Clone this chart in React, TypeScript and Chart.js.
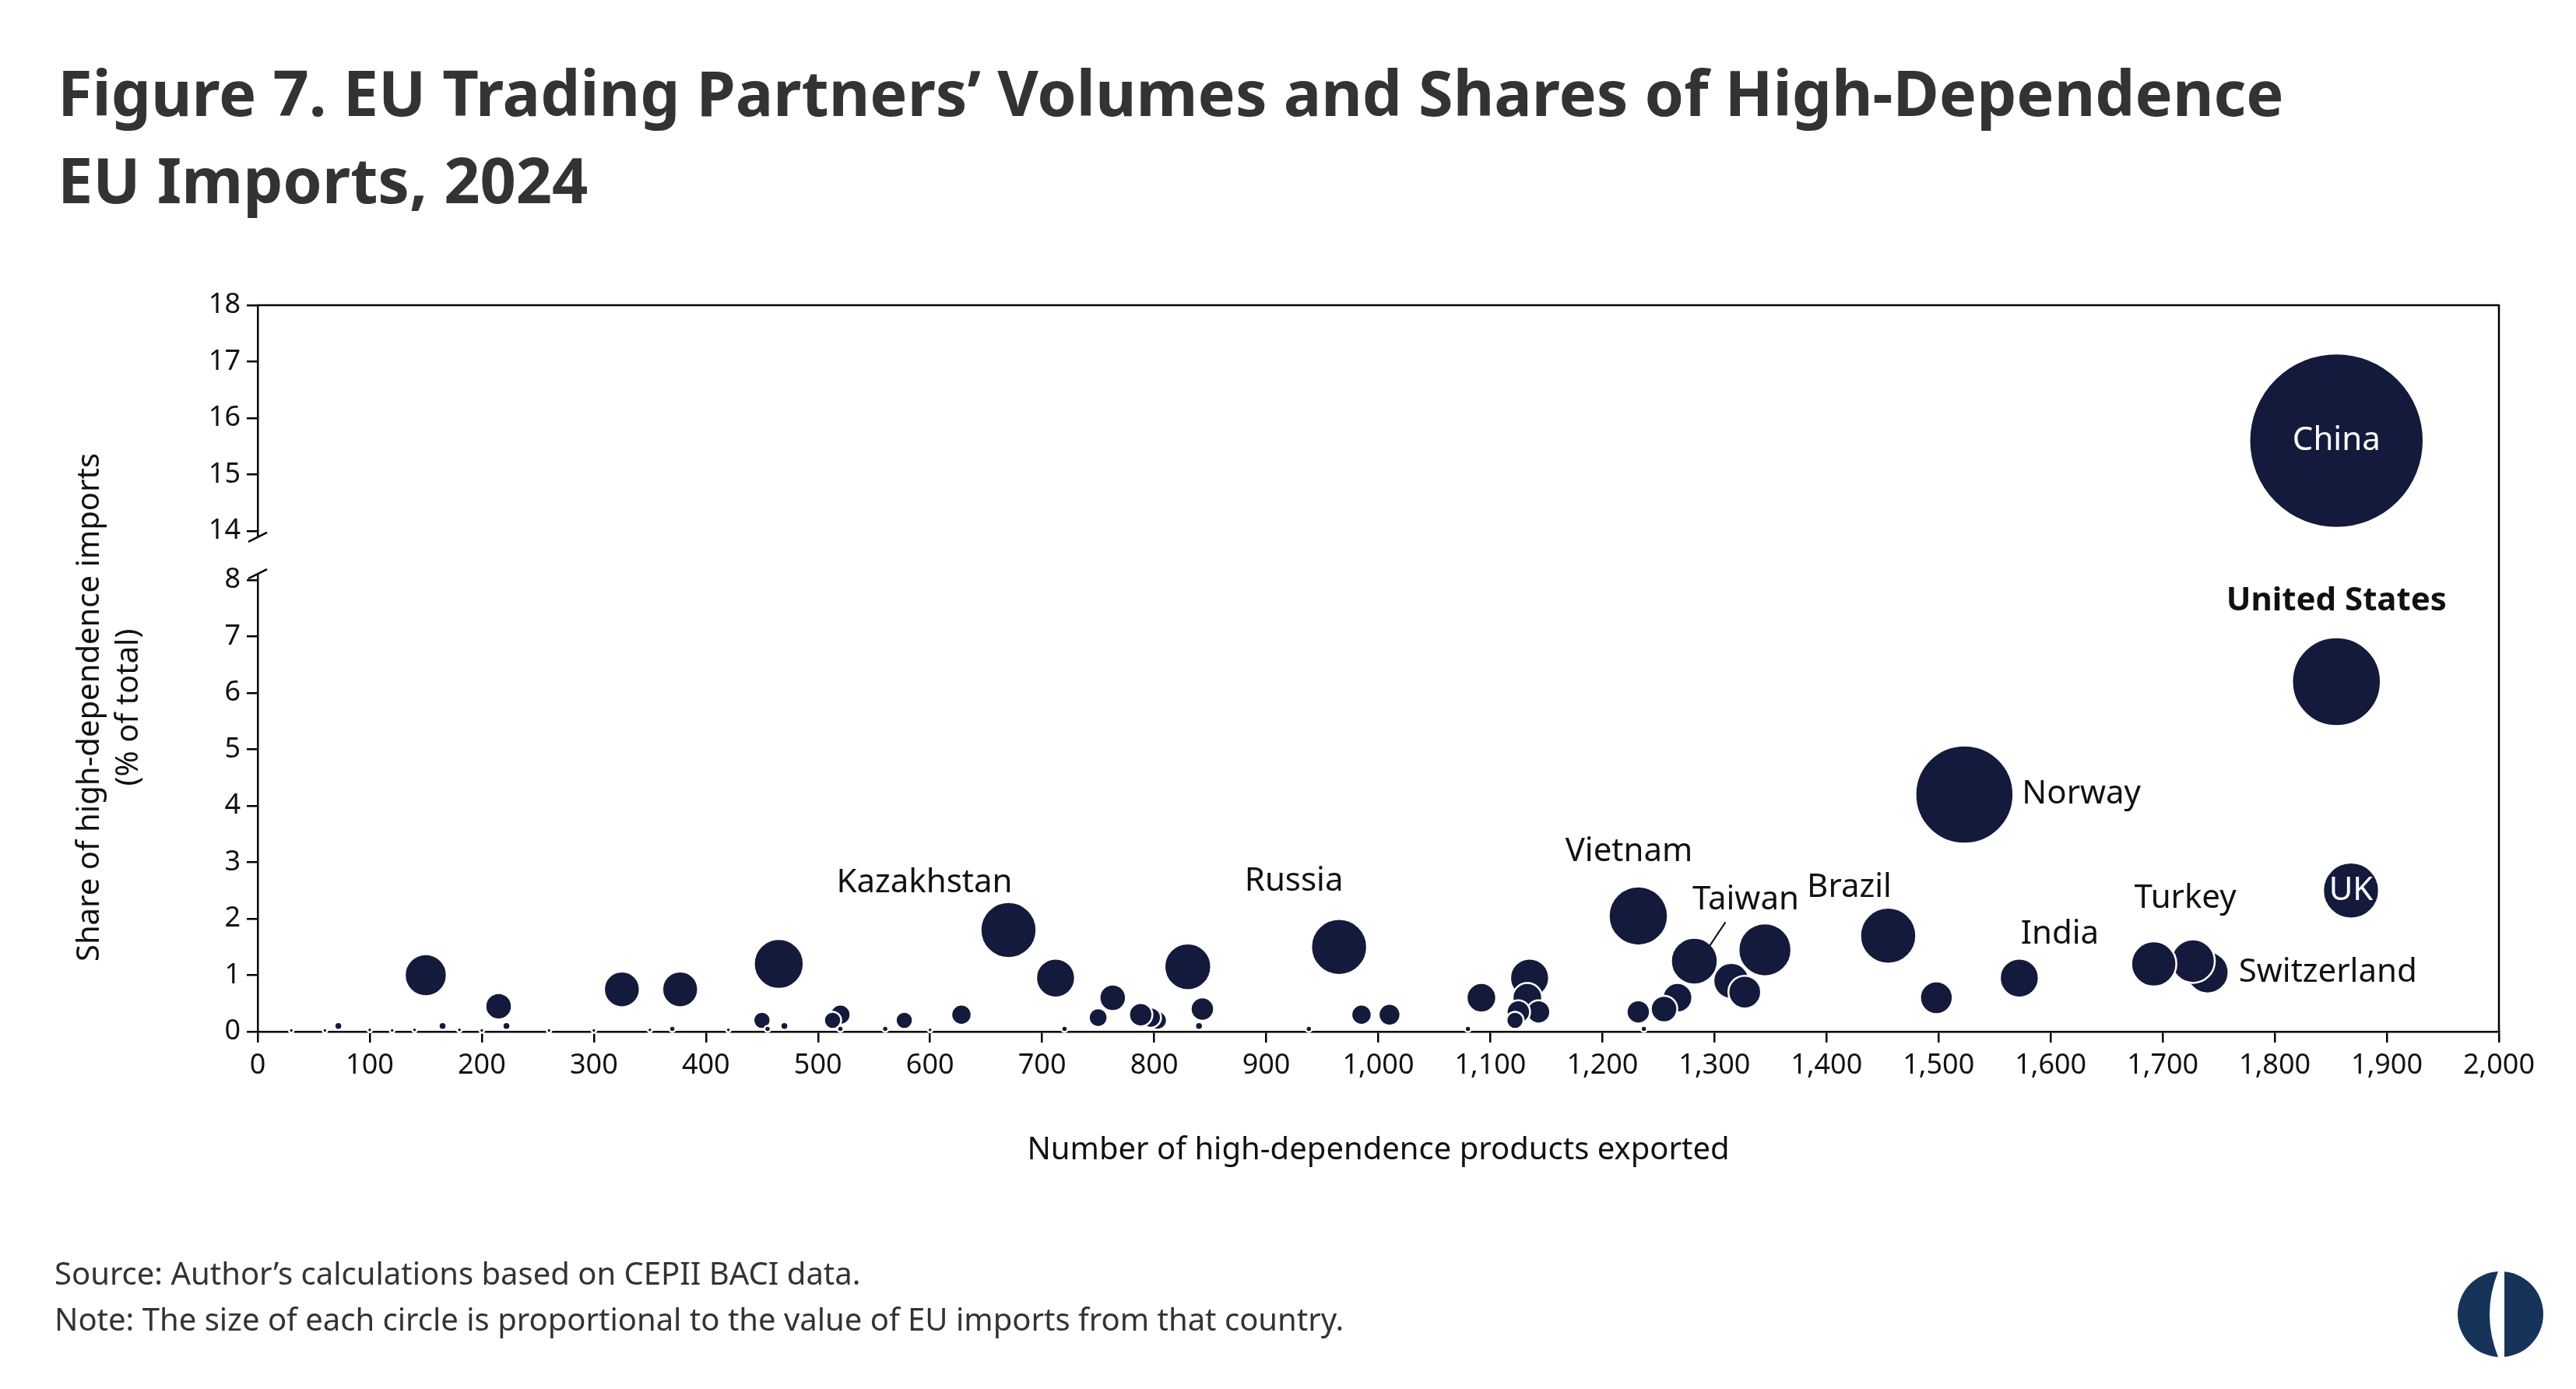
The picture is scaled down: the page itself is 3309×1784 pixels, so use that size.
import React, { useEffect, useRef } from "react";
import { Chart, registerables } from "chart.js";
Chart.register(...registerables);

// [products exported, share %, bubble radius px]
const xs = [1855, 1855, 1523, 1868, 1740, 1727, 1692, 1572, 1498, 1455, 1345, 1282, 1315, 1327, 1232, 1267, 1255, 1232, 1135, 1133, 1143, 1125, 1122, 1092, 1010, 985, 938, 965, 843, 830, 803, 797, 788, 763, 750, 712, 670, 628, 577, 520, 513, 465, 450, 377, 325, 215, 150, 72, 165, 222, 470, 560, 720, 1080, 840, 1237, 30, 60, 100, 120, 140, 180, 200, 260, 300, 350, 370, 420, 455, 520, 600];
const ys = [15.6, 6.2, 4.2, 2.5, 1.05, 1.25, 1.2, 0.95, 0.6, 1.7, 1.45, 1.25, 0.9, 0.7, 2.05, 0.6, 0.4, 0.35, 0.95, 0.6, 0.35, 0.35, 0.2, 0.6, 0.3, 0.3, 0.05, 1.5, 0.4, 1.15, 0.2, 0.25, 0.3, 0.6, 0.25, 0.95, 1.8, 0.3, 0.2, 0.3, 0.2, 1.2, 0.2, 0.75, 0.75, 0.45, 1.0, 0.1, 0.1, 0.1, 0.1, 0.05, 0.05, 0.05, 0.1, 0.05, 0.02, 0.02, 0.03, 0.02, 0.03, 0.03, 0.02, 0.02, 0.02, 0.03, 0.05, 0.03, 0.05, 0.05, 0.03];
const sizes = [112, 57, 63, 36, 27, 28, 29, 25, 21, 36, 34, 30, 23, 21, 38, 19, 17, 15, 25, 19, 15, 15, 11, 19, 14, 13, 4, 36, 15, 30, 12, 13, 15, 17, 12, 25, 36, 13, 11, 13, 11, 32, 11, 23, 23, 17, 27, 5, 5, 5, 5, 4, 4, 4, 5, 4, 3, 3, 3, 3, 3, 3, 3, 3, 3, 3, 4, 3, 4, 4, 3];

const yTickValues = [0, 1, 2, 3, 4, 5, 6, 7, 8, 14, 15, 16, 17, 18];
const xTickLabelsStep = 100;

const labels = [
  { t: "China", x: 1855, y: 15.6, dx: 0, dy: 0, align: "center", color: "#fff", bold: false },
  { t: "United States", x: 1855, y: 6.2, dx: 0, dy: -104, align: "center", color: "#111", bold: true },
  { t: "Norway", x: 1523, y: 4.2, dx: 74, dy: 0, align: "left", color: "#111", bold: false },
  { t: "UK", x: 1868, y: 2.5, dx: 0, dy: 0, align: "center", color: "#fff", bold: false },
  { t: "Switzerland", x: 1740, y: 1.05, dx: 40, dy: 0, align: "left", color: "#111", bold: false },
  { t: "Turkey", x: 1727, y: 1.25, dx: -10, dy: -80, align: "center", color: "#111", bold: false },
  { t: "India", x: 1572, y: 0.95, dx: 52, dy: -56, align: "center", color: "#111", bold: false },
  { t: "Brazil", x: 1455, y: 1.7, dx: -50, dy: -62, align: "center", color: "#111", bold: false },
  { t: "Taiwan", x: 1282, y: 1.25, dx: 66, dy: -78, align: "center", color: "#111", bold: false },
  { t: "Vietnam", x: 1232, y: 2.05, dx: -12, dy: -82, align: "center", color: "#111", bold: false },
  { t: "Russia", x: 965, y: 1.5, dx: -58, dy: -84, align: "center", color: "#111", bold: false },
  { t: "Kazakhstan", x: 670, y: 1.8, dx: -108, dy: -60, align: "center", color: "#111", bold: false },
];

const GAP = 14 - 8.87;
const tf = (v: number) => (v <= 8 ? v : v - GAP);
const inv = (v: number) => (v <= 8.01 ? v : v + GAP);
const NAVY = "#141a3b";
const FONT = "'Noto Sans', 'Open Sans', sans-serif";

export default function App() {
  const ref = useRef<HTMLCanvasElement>(null);
  useEffect(() => {
    const data = xs.map((x, i) => ({ x, y: tf(ys[i]), r: sizes[i] }));
    const overlay = {
      id: "overlay",
      afterDatasetsDraw(chart: any) {
        const ctx = chart.ctx;
        const xS = chart.scales.x, yS = chart.scales.y;
        const ca = chart.chartArea;
        ctx.save();
        ctx.strokeStyle = "#000";
        ctx.lineWidth = 2.5;
        ctx.beginPath();
        ctx.moveTo(ca.left, ca.top);
        ctx.lineTo(ca.right, ca.top);
        ctx.lineTo(ca.right, ca.bottom);
        ctx.stroke();
        const y8 = yS.getPixelForValue(8), y14 = yS.getPixelForValue(tf(14));
        ctx.fillStyle = "#fff";
        ctx.fillRect(ca.left - 4, y14 + 8, 8, y8 - y14 - 16);
        [y14 + 8, y8 - 8].forEach((yy) => {
          ctx.beginPath();
          ctx.moveTo(ca.left - 12, yy + 6);
          ctx.lineTo(ca.left + 12, yy - 6);
          ctx.stroke();
        });
        ctx.textBaseline = "middle";
        labels.forEach((l) => {
          ctx.font = `${l.bold ? "bold " : ""}42px ${FONT}`;
          ctx.fillStyle = l.color;
          ctx.textAlign = l.align;
          ctx.fillText(l.t, xS.getPixelForValue(l.x) + l.dx, yS.getPixelForValue(tf(l.y)) + l.dy);
        });
        ctx.strokeStyle = "#111";
        ctx.lineWidth = 2;
        ctx.beginPath();
        ctx.moveTo(xS.getPixelForValue(1282) + 40, yS.getPixelForValue(1.25) - 50);
        ctx.lineTo(xS.getPixelForValue(1282) + 20, yS.getPixelForValue(1.25) - 20);
        ctx.stroke();
        ctx.fillStyle = "#111";
        ctx.font = `40px ${FONT}`;
        ctx.textAlign = "center";
        ctx.fillText("Number of high-dependence products exported", (ca.left + ca.right) / 2, 1478);
        ctx.translate(140, (ca.top + ca.bottom) / 2 + 50);
        ctx.rotate(-Math.PI / 2);
        ctx.fillText("Share of high-dependence imports", 0, -24);
        ctx.fillText("(% of total)", 0, 26);
        ctx.restore();
      },
    };
    const chart = new Chart(ref.current!, {
      type: "bubble",
      data: {
        datasets: [{ data, backgroundColor: NAVY, borderColor: "#fff", borderWidth: 2.5, clip: false }],
      },
      options: {
        animation: false,
        responsive: false,
        layout: { autoPadding: false, padding: { left: 0, right: 99, top: 392, bottom: 0 } },
        plugins: { legend: { display: false }, tooltip: { enabled: false } },
        scales: {
          x: {
            min: 0, max: 2000,
            ticks: { stepSize: xTickLabelsStep, color: "#111", font: { size: 36, family: FONT }, maxRotation: 0, padding: 8 },
            grid: { drawOnChartArea: false, tickLength: 14, color: "#000", lineWidth: 2.5 },
            border: { color: "#000", width: 2.5 },
            afterFit: (s: any) => { s.height = 459; s.paddingRight = 0; s.paddingLeft = 0; },
          },
          y: {
            min: 0, max: tf(18),
            afterBuildTicks: (s: any) => { s.ticks = yTickValues.map((v) => ({ value: tf(v) })); },
            ticks: { color: "#111", font: { size: 36, family: FONT }, padding: 8, callback: (v: any) => String(Math.round(inv(Number(v)))) },
            grid: { drawOnChartArea: false, tickLength: 14, color: "#000", lineWidth: 2.5 },
            border: { color: "#000", width: 2.5 },
            afterFit: (s: any) => { s.width = 331; s.paddingTop = 0; s.paddingBottom = 0; },
          },
        },
      },
      plugins: [overlay],
    });
    return () => chart.destroy();
  }, []);
  return (
    <div style={{ position: "relative", width: 3309, height: 1784, margin: -8, background: "#fff", fontFamily: FONT, overflow: "hidden" }}>
      <canvas ref={ref} width={3309} height={1784} style={{ position: "absolute", left: 0, top: 0 }} />
      <div style={{ position: "absolute", left: 74, top: 62, fontSize: 81, fontWeight: 700, color: "#333", lineHeight: "112px" }}>
        Figure 7. EU Trading Partners’ Volumes and Shares of High-Dependence<br />EU Imports, 2024
      </div>
      <div style={{ position: "absolute", left: 70, top: 1605, fontSize: 40, color: "#333", lineHeight: "59px" }}>
        Source: Author’s calculations based on CEPII BACI data.<br />
        Note: The size of each circle is proportional to the value of EU imports from that country.
      </div>
      <svg style={{ position: "absolute", left: 3157, top: 1633 }} width={110} height={110}>
        <circle cx={55} cy={55} r={55} fill="#16345a" />
        <path d="M52 0 Q30 55 52 110 L60 110 L60 0 Z" fill="#fff" />
      </svg>
    </div>
  );
}
